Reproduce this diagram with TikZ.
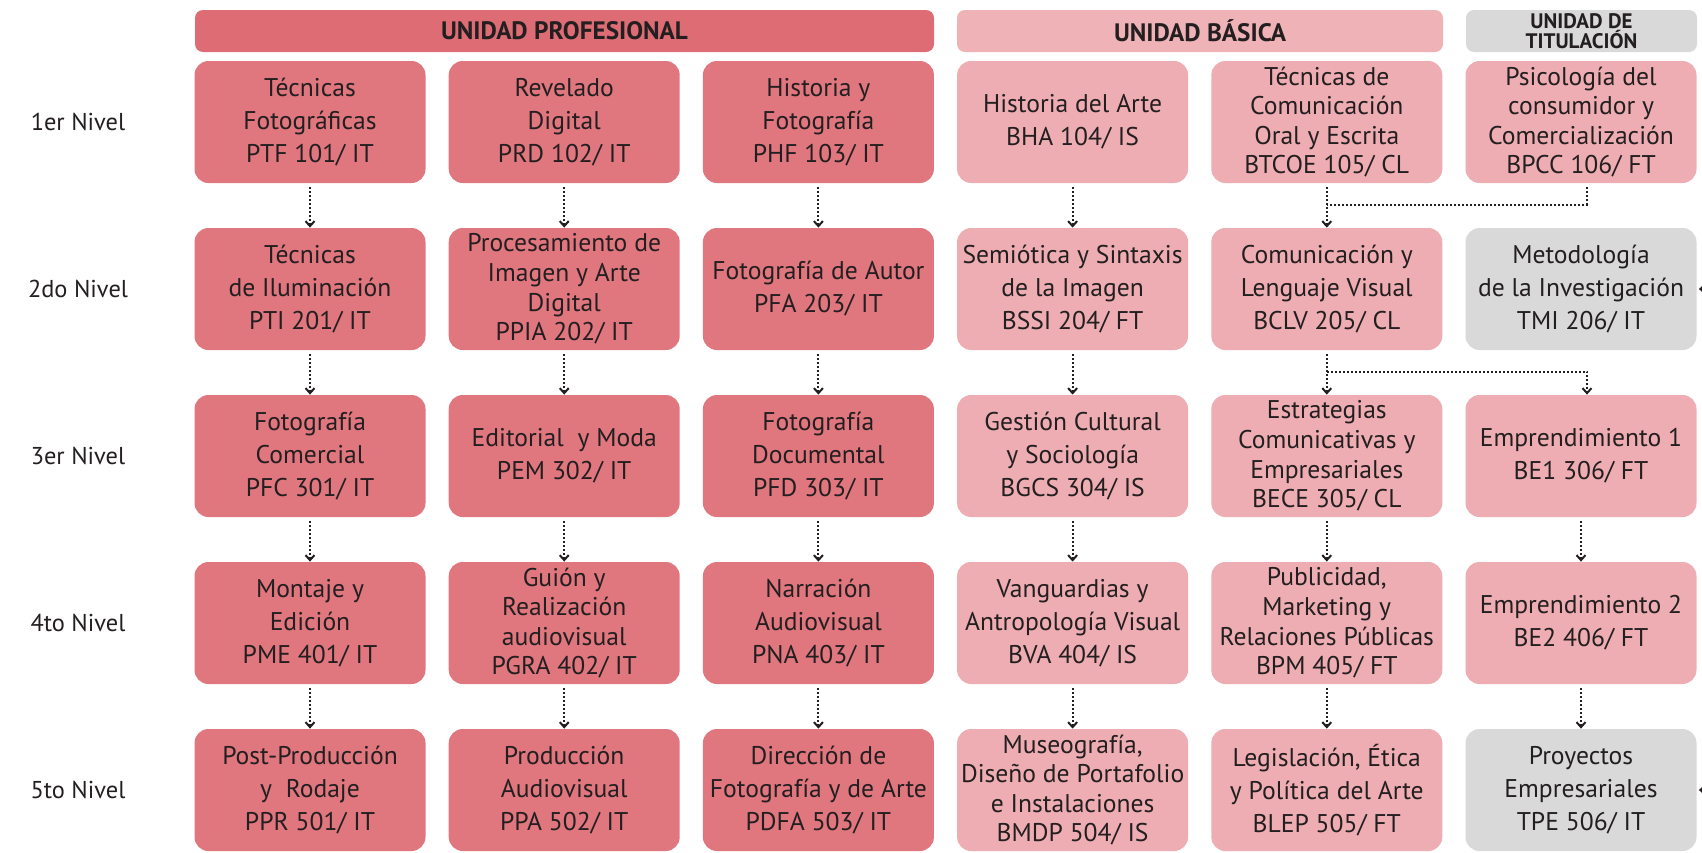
\documentclass[tikz,border=0pt]{standalone}
\usepackage{fontspec}
\setmainfont{PT Sans}
\usetikzlibrary{arrows.meta}
\definecolor{profcol}{RGB}{224,118,126}
\definecolor{profhead}{RGB}{221,108,116}
\definecolor{basiccol}{RGB}{238,173,178}
\definecolor{basichead}{RGB}{239,178,182}
\definecolor{titcol}{RGB}{217,217,217}
\definecolor{inkcol}{RGB}{35,31,32}
\def\colsep{254.2}
\def\rowsep{167}

\begin{document}
\begin{tikzpicture}[x=0.5pt,y=-0.5pt, >={Straight Barb[length=2.5pt,width=4.5pt]}]
	\tikzstyle{course}=[rounded corners=7pt,minimum width=115.5pt,minimum height=61pt,inner sep=0pt,align=center,text=inkcol,font=\fontsize{12.8}{16.5}\selectfont]
	\tikzstyle{prof}=[course, fill=profcol]
	\tikzstyle{prof tight}=[prof, font=\fontsize{12.8}{14.8}\selectfont]
	\tikzstyle{basic}=[course, fill=basiccol]
	\tikzstyle{basic tight}=[basic, font=\fontsize{12.8}{14.8}\selectfont]
	\tikzstyle{tit}=[course, fill=titcol]
	\tikzstyle{head}=[rounded corners=4pt,minimum height=21pt,inner sep=0pt,align=center,text=inkcol,font=\bfseries\fontsize{12.6}{9}\selectfont]
	\tikzstyle{level}=[text=inkcol,font=\fontsize{12.2}{14}\selectfont]
	\tikzstyle{flow}=[->,densely dotted,line width=1pt,draw=inkcol,shorten <=2pt]
	\tikzstyle{joint}=[densely dotted,line width=1pt,draw=inkcol]
	
	\useasboundingbox (0,0) rectangle (1702,852);
	
	% Draw the unit headers
	\node[head, fill=profhead, minimum width=369.5pt] (HP) at (564.5,31) {UNIDAD PROFESIONAL};
	\node[head, fill=basichead, minimum width=243pt] (HB) at (1200,31) {UNIDAD BÁSICA};
	\node[head, fill=titcol, minimum width=115.5pt, font=\bfseries\fontsize{10.5}{9}\selectfont] (HT) at (1581.5,31) {UNIDAD DE\\TITULACIÓN};
	
	% Draw the level labels
	\foreach \y/\lab in {1/1er,2/2do,3/3er,4/4to,5/5to}
	\node[level] (L-\y) at (78,{122+\rowsep*(\y-1)}) {\lab{} Nivel};
	
	% Draw the professional unit, column 1
	\foreach \y/\kind/\txt in {1/prof/{Técnicas\\Fotográficas\\PTF 101/ IT},
		2/prof/{Técnicas\\de Iluminación\\PTI 201/ IT},
		3/prof/{Fotografía\\Comercial\\PFC 301/ IT},
		4/prof/{Montaje y\\Edición\\PME 401/ IT},
		5/prof/{Post-Producción\\y~ Rodaje\\PPR 501/ IT}}
	\node[\kind] (C1-\y) at (310,{122+\rowsep*(\y-1)}) {\txt};
	
	% Draw the professional unit, column 2
	\foreach \y/\kind/\txt in {1/prof/{Revelado\\Digital\\PRD 102/ IT},
		2/prof tight/{Procesamiento de\\Imagen y Arte\\Digital\\PPIA 202/ IT},
		3/prof/{Editorial~ y Moda\\PEM 302/ IT},
		4/prof tight/{Guión y\\Realización\\audiovisual\\PGRA 402/ IT},
		5/prof/{Producción\\Audiovisual\\PPA 502/ IT}}
	\node[\kind] (C2-\y) at (310+\colsep,{122+\rowsep*(\y-1)}) {\txt};
	
	% Draw the professional unit, column 3
	\foreach \y/\kind/\txt in {1/prof/{Historia y\\Fotografía\\PHF 103/ IT},
		2/prof/{Fotografía de Autor\\PFA 203/ IT},
		3/prof/{Fotografía\\Documental\\PFD 303/ IT},
		4/prof/{Narración\\Audiovisual\\PNA 403/ IT},
		5/prof/{Dirección de\\Fotografía y de Arte\\PDFA 503/ IT}}
	\node[\kind] (C3-\y) at (310+2*\colsep,{122+\rowsep*(\y-1)}) {\txt};
	
	% Draw the basic unit, column 4
	\foreach \y/\kind/\txt in {1/basic/{Historia del Arte\\BHA 104/ IS},
		2/basic/{Semiótica y Sintaxis\\de la Imagen\\BSSI 204/ FT},
		3/basic/{Gestión Cultural\\y Sociología\\BGCS 304/ IS},
		4/basic/{Vanguardias y\\Antropología Visual\\BVA 404/ IS},
		5/basic tight/{Museografía,\\Diseño de Portafolio\\e Instalaciones\\BMDP 504/ IS}}
	\node[\kind] (C4-\y) at (310+3*\colsep,{122+\rowsep*(\y-1)}) {\txt};
	
	% Draw the basic unit, column 5
	\foreach \y/\kind/\txt in {1/basic tight/{Técnicas de\\Comunicación\\Oral y Escrita\\BTCOE 105/ CL},
		2/basic/{Comunicación y\\Lenguaje Visual\\BCLV 205/ CL},
		3/basic tight/{Estrategias\\Comunicativas y\\Empresariales\\BECE 305/ CL},
		4/basic tight/{Publicidad,\\Marketing y\\Relaciones Públicas\\BPM 405/ FT},
		5/basic/{Legislación, Ética\\y Política del Arte\\BLEP 505/ FT}}
	\node[\kind] (C5-\y) at (310+4*\colsep,{122+\rowsep*(\y-1)}) {\txt};
	
	% Draw the last column
	\foreach \y/\kind/\txt in {1/basic tight/{Psicología del\\consumidor y\\Comercialización\\BPCC 106/ FT},
		2/tit/{Metodología\\de la Investigación\\TMI 206/ IT},
		3/basic/{Emprendimiento 1\\BE1 306/ FT},
		4/basic/{Emprendimiento 2\\BE2 406/ FT},
		5/tit/{Proyectos\\Empresariales\\TPE 506/ IT}}
	\node[\kind] (C6-\y) at (310+5*\colsep,{122+\rowsep*(\y-1)}) {\txt};
	
	% Connect the levels
	\foreach \c in {1,...,5}
	\foreach \r/\n in {1/2,2/3,3/4,4/5}
	\draw[flow] (C\c-\r.south) -- (C\c-\n.north);
	
	\foreach \r/\n in {3/4,4/5}
	\draw[flow] (C6-\r.south) -- (C6-\n.north);
	
	% Side branches
	\path (C5-1.south) -- (C5-2.north) coordinate[pos=0.48] (J-1);
	\path (C5-2.south) -- (C5-3.north) coordinate[pos=0.48] (J-2);
	\draw[joint, shorten <=2pt] ([xshift=3pt]C6-1.south) |- (J-1);
	\draw[flow, shorten <=0pt] (J-2) -| ([xshift=3pt]C6-3.north);
	
	% Arrows coming in from the right
	\coordinate (R-2) at ([xshift=20pt]C6-2.east);
	\coordinate (R-5) at ([xshift=20pt]C6-5.east);
	\draw[flow] (R-2) -- ([xshift=1pt]C6-2.east);
	\draw[flow] (R-5) -- ([xshift=1pt]C6-5.east);
	
\end{tikzpicture}
\end{document}
